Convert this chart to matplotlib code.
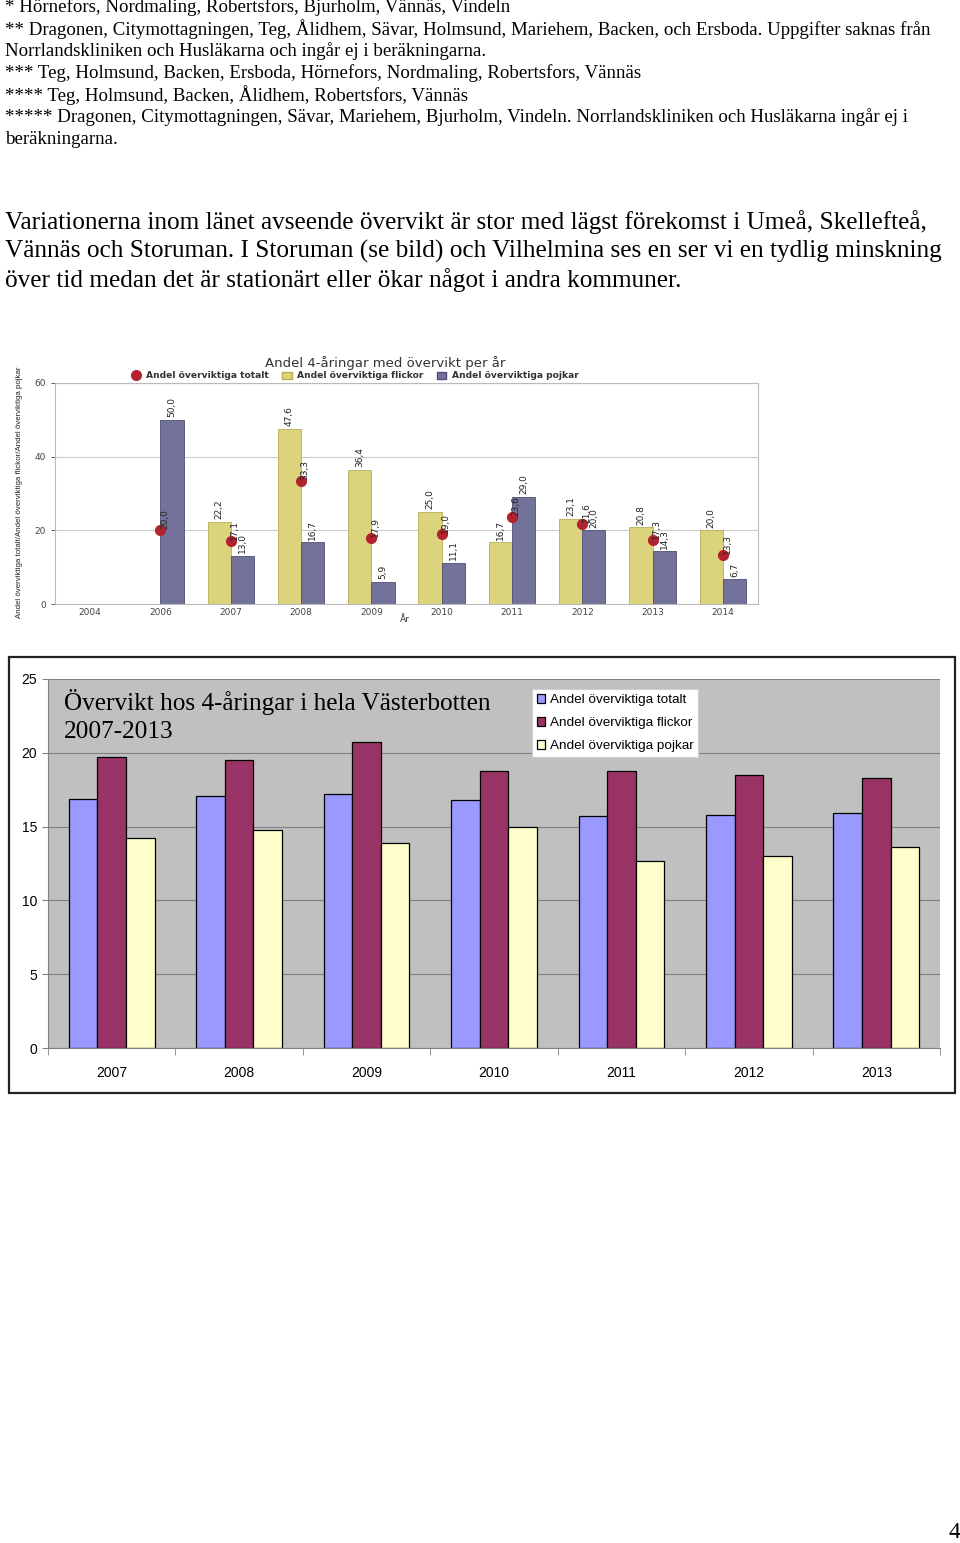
import numpy as np
import matplotlib
matplotlib.use('Agg')
from matplotlib import pyplot as plt
from matplotlib.patches import Rectangle
from matplotlib.lines import Line2D

W, H = 960, 1543

# upper chart data (per year, one municipality)
up_years = ['2004', '2006', '2007', '2008', '2009', '2010', '2011', '2012', '2013', '2014']
up_total = [np.nan, 20.0, 17.1, 33.3, 17.9, 19.0, 23.6, 21.6, 17.3, 13.3]
up_flickor = [np.nan, np.nan, 22.2, 47.6, 36.4, 25.0, 16.7, 23.1, 20.8, 20.0]
up_pojkar = [np.nan, 50.0, 13.0, 16.7, 5.9, 11.1, 29.0, 20.0, 14.3, 6.7]

# lower chart data (whole county)
low_years = ['2007', '2008', '2009', '2010', '2011', '2012', '2013']
low_total = [16.9, 17.1, 17.2, 16.8, 15.7, 15.8, 15.9]
low_flickor = [19.7, 19.5, 20.7, 18.8, 18.8, 18.5, 18.3]
low_pojkar = [14.2, 14.8, 13.9, 15.0, 12.7, 13.0, 13.6]

notes = [
    "* Hörnefors, Nordmaling, Robertsfors, Bjurholm, Vännäs, Vindeln",
    "** Dragonen, Citymottagningen, Teg, Ålidhem, Sävar, Holmsund, Mariehem, Backen, och Ersboda. Uppgifter saknas från",
    "Norrlandskliniken och Husläkarna och ingår ej i beräkningarna.",
    "*** Teg, Holmsund, Backen, Ersboda, Hörnefors, Nordmaling, Robertsfors, Vännäs",
    "**** Teg, Holmsund, Backen, Ålidhem, Robertsfors, Vännäs",
    "***** Dragonen, Citymottagningen, Sävar, Mariehem, Bjurholm, Vindeln. Norrlandskliniken och Husläkarna ingår ej i",
    "beräkningarna.",
]
paragraph = [
    "Variationerna inom länet avseende övervikt är stor med lägst förekomst i Umeå, Skellefteå,",
    "Vännäs och Storuman. I Storuman (se bild) och Vilhelmina ses en ser vi en tydlig minskning",
    "över tid medan det är stationärt eller ökar något i andra kommuner.",
]

serif = 'Liberation Serif'
sans = 'Liberation Sans'

def fx(x):
    return x / W

def fy(y):
    return 1 - y / H

def fmt(v):
    return f"{v:.1f}".replace('.', ',')

fig = plt.figure(figsize=(W / 100, H / 100), dpi=100)

# page text
for i, line in enumerate(notes):
    fig.text(fx(5), fy(7 + 22 * i), line, family=serif, fontsize=13.6, va='center', ha='left')
for i, line in enumerate(paragraph):
    fig.text(fx(5), fy(222 + 29 * i), line, family=serif, fontsize=18.2, va='center', ha='left')
fig.text(fx(960), fy(1532), "4", family=serif, fontsize=17, va='center', ha='right')

# ---------- upper chart ----------
ax1 = fig.add_axes([fx(55), fy(604), fx(758) - fx(55), fy(383) - fy(604)])
x = np.arange(len(up_years))
bw = 0.33
c_yel = '#dcd47c'
c_pur = '#72729a'
c_red = '#b3232f'
ax1.bar(x - bw / 2, up_flickor, bw, color=c_yel, edgecolor='#b8ae55', linewidth=0.6, zorder=2)
ax1.bar(x + bw / 2, up_pojkar, bw, color=c_pur, edgecolor='#4e4e74', linewidth=0.6, zorder=2)
ax1.plot(x, up_total, 'o', color=c_red, ms=7, linestyle='none', zorder=4)
for i in range(len(x)):
    if not np.isnan(up_flickor[i]):
        ax1.annotate(fmt(up_flickor[i]), (x[i] - bw / 2, up_flickor[i]), xytext=(0, 2), textcoords='offset points',
                     rotation=90, ha='center', va='bottom', fontsize=6.5, color='#222222', zorder=5)
    if not np.isnan(up_pojkar[i]):
        ax1.annotate(fmt(up_pojkar[i]), (x[i] + bw / 2, up_pojkar[i]), xytext=(0, 2), textcoords='offset points',
                     rotation=90, ha='center', va='bottom', fontsize=6.5, color='#222222', zorder=5)
    if not np.isnan(up_total[i]):
        ax1.annotate(fmt(up_total[i]), (x[i], up_total[i]), xytext=(3, 1), textcoords='offset points',
                     rotation=90, ha='center', va='bottom', fontsize=6.5, color='#222222', zorder=5)
ax1.set_xlim(-0.5, len(x) - 0.5)
ax1.set_ylim(0, 60)
ax1.set_yticks([0, 20, 40, 60])
ax1.set_xticks(x)
ax1.set_xticklabels(up_years)
ax1.tick_params(axis='both', labelsize=6.5, colors='#444444', length=3, width=0.6)
ax1.tick_params(axis='x', length=0, pad=3)
ax1.grid(axis='y', color='#cccccc', linewidth=0.8, zorder=0)
ax1.set_axisbelow(True)
for s in ax1.spines.values():
    s.set_color('#bbbbbb')
fig.text(fx(385), fy(363), "Andel 4-åringar med övervikt per år", ha='center', va='center',
         fontsize=9.5, color='#333333')
fig.text(fx(405), fy(620), "År", ha='center', va='center', fontsize=6.5, color='#333333')
fig.text(fx(20), fy(492), "Andel överviktiga totalt/Andel överviktiga flickor/Andel överviktiga pojkar",
         rotation=90, ha='center', va='center', fontsize=5.7, color='#222222', family=sans)
h1 = [Line2D([], [], marker='o', color=c_red, ms=7, linestyle='none'),
      Rectangle((0, 0), 1, 1, facecolor=c_yel, edgecolor='#b8ae55'),
      Rectangle((0, 0), 1, 1, facecolor=c_pur, edgecolor='#4e4e74')]
fig.legend(h1, ['Andel överviktiga totalt', 'Andel överviktiga flickor', 'Andel överviktiga pojkar'],
           loc='center', bbox_to_anchor=(fx(355), fy(376)), ncol=3, frameon=False,
           handlelength=1.0, handleheight=0.8, handletextpad=0.6, columnspacing=1.5,
           prop={'weight': 'bold', 'size': 6.6}, labelcolor='#333333')

# ---------- lower chart ----------
fig.add_artist(Rectangle((fx(9), fy(1093)), fx(955) - fx(9), fy(657) - fy(1093), transform=fig.transFigure,
                         fill=False, edgecolor='#222222', linewidth=1.6))
ax2 = fig.add_axes([fx(48), fy(1048), fx(940) - fx(48), fy(679) - fy(1048)])
ax2.set_facecolor('#c0c0c0')
x2 = np.arange(len(low_years))
bw2 = 0.224
ax2.bar(x2 - bw2, low_total, bw2, color='#9999ff', edgecolor='black', linewidth=0.9, zorder=2,
        label='Andel överviktiga totalt')
ax2.bar(x2, low_flickor, bw2, color='#993366', edgecolor='black', linewidth=0.9, zorder=2,
        label='Andel överviktiga flickor')
ax2.bar(x2 + bw2, low_pojkar, bw2, color='#ffffcc', edgecolor='black', linewidth=0.9, zorder=2,
        label='Andel överviktiga pojkar')
ax2.set_xlim(-0.5, len(x2) - 0.5)
ax2.set_ylim(0, 25)
ax2.set_yticks([0, 5, 10, 15, 20, 25])
ax2.set_xticks(x2)
ax2.set_xticklabels(low_years)
ax2.set_xticks(np.arange(-0.5, len(x2), 1), minor=True)
ax2.tick_params(axis='x', which='major', length=0, pad=13)
ax2.tick_params(axis='x', which='minor', length=5, color='#808080')
ax2.tick_params(axis='y', length=4, color='#808080', pad=4)
for lab in ax2.get_xticklabels() + ax2.get_yticklabels():
    lab.set_family(sans)
    lab.set_fontsize(10)
ax2.grid(axis='y', color='#808080', linewidth=0.8, zorder=0)
ax2.set_axisbelow(True)
ax2.spines['top'].set_visible(False)
ax2.spines['right'].set_visible(False)
ax2.spines['left'].set_color('#808080')
ax2.spines['bottom'].set_color('#808080')
ax2.text(fx(64), fy(689), "Övervikt hos 4-åringar i hela Västerbotten\n2007-2013", transform=fig.transFigure,
         family=serif, fontsize=18.2, va='top', ha='left', linespacing=1.38, zorder=5)
leg = ax2.legend(loc='upper left', bbox_to_anchor=(fx(532), fy(689)), bbox_transform=fig.transFigure,
                 fancybox=False, framealpha=1, edgecolor='#d0d0d0', borderpad=0.35, borderaxespad=0,
                 handlelength=0.65, handleheight=0.65, handletextpad=0.3, labelspacing=0.82,
                 prop={'family': sans, 'size': 9.7})
leg.get_frame().set_linewidth(0.8)

fig.savefig('out.png', dpi=100)
